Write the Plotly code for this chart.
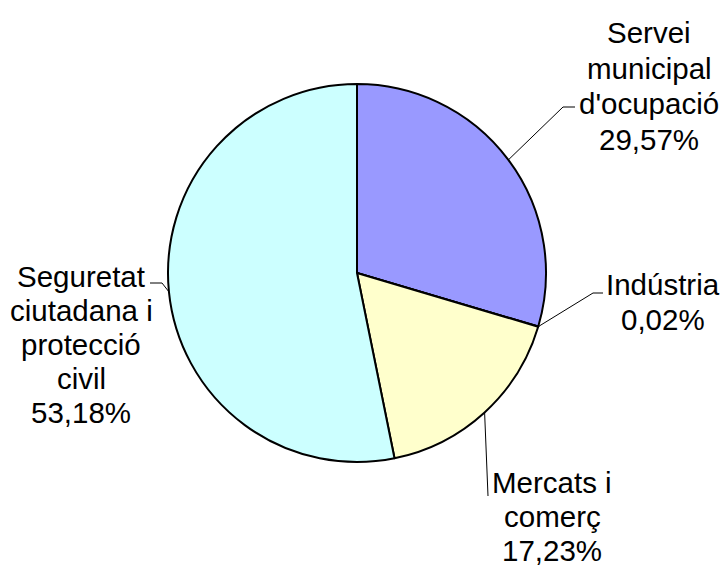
import math
import plotly.graph_objects as go

labels = ["Servei municipal d'ocupació", "Indústria", "Mercats i comerç", "Seguretat ciutadana i protecció civil"]
values = [29.57, 0.02, 17.23, 53.18]
label_lines = [
    ["Servei", "municipal", "d'ocupació", "29,57%"],
    ["Indústria", "0,02%"],
    ["Mercats i", "comerç", "17,23%"],
    ["Seguretat", "ciutadana i", "protecció", "civil", "53,18%"],
]
colors = ["#9999FF", "#993366", "#FFFFCC", "#CCFFFF"]

W, H = 724, 569
cx, cy, r = 357, 273, 189
FONT = 29.5

def px(x):
    return x / W

def py(y):
    return 1 - y / H

fig = go.Figure(go.Pie(
    labels=labels, values=values, sort=False, direction="clockwise", rotation=0,
    marker=dict(colors=colors, line=dict(color="black", width=2)),
    textinfo="none", hoverinfo="label+percent",
    domain=dict(x=[px(cx - r), px(cx + r)], y=[py(cy + r), py(cy - r)]),
    showlegend=False,
))

# label placement (pixel): centre x, first baseline, line step, elbow point, end of leader
label_pos = [
    dict(x=649, base=43, step=35.5, elbow=(563, 107), end=(575, 107)),
    dict(x=663, base=295, step=35, elbow=(593, 293), end=(603, 293)),
    dict(x=552, base=493, step=34, elbow=(488, 496), end=(488, 496)),
    dict(x=81, base=287, step=34, elbow=(162, 283), end=(150, 283)),
]

total = sum(values)
cum = 0
shapes = []
annotations = []
for v, lines, lp in zip(values, label_lines, label_pos):
    mid = (cum + v / 2) / total * 2 * math.pi
    cum += v
    sx = cx + r * math.sin(mid)
    sy = cy - r * math.cos(mid)
    ex, ey = lp["elbow"]
    fx, fy = lp["end"]
    shapes.append(dict(type="line", xref="paper", yref="paper", x0=px(sx), y0=py(sy),
                       x1=px(ex), y1=py(ey), line=dict(color="black", width=1)))
    if (fx, fy) != (ex, ey):
        shapes.append(dict(type="line", xref="paper", yref="paper", x0=px(ex), y0=py(ey),
                           x1=px(fx), y1=py(fy), line=dict(color="black", width=1)))
    for i, t in enumerate(lines):
        base = lp["base"] + i * lp["step"]
        annotations.append(dict(text=t, x=px(lp["x"]), y=py(base - 0.35 * FONT), xref="paper", yref="paper",
                                xanchor="center", yanchor="middle", showarrow=False, align="center",
                                font=dict(family="Liberation Sans, Arial, sans-serif", size=FONT, color="black")))

fig.update_layout(
    width=W, height=H, margin=dict(l=0, r=0, t=0, b=0),
    paper_bgcolor="white", plot_bgcolor="white",
    shapes=shapes, annotations=annotations,
)
fig.write_html("out.html", config={"displayModeBar": False},
               post_script="document.body.style.margin='0';document.body.style.overflow='hidden';")
